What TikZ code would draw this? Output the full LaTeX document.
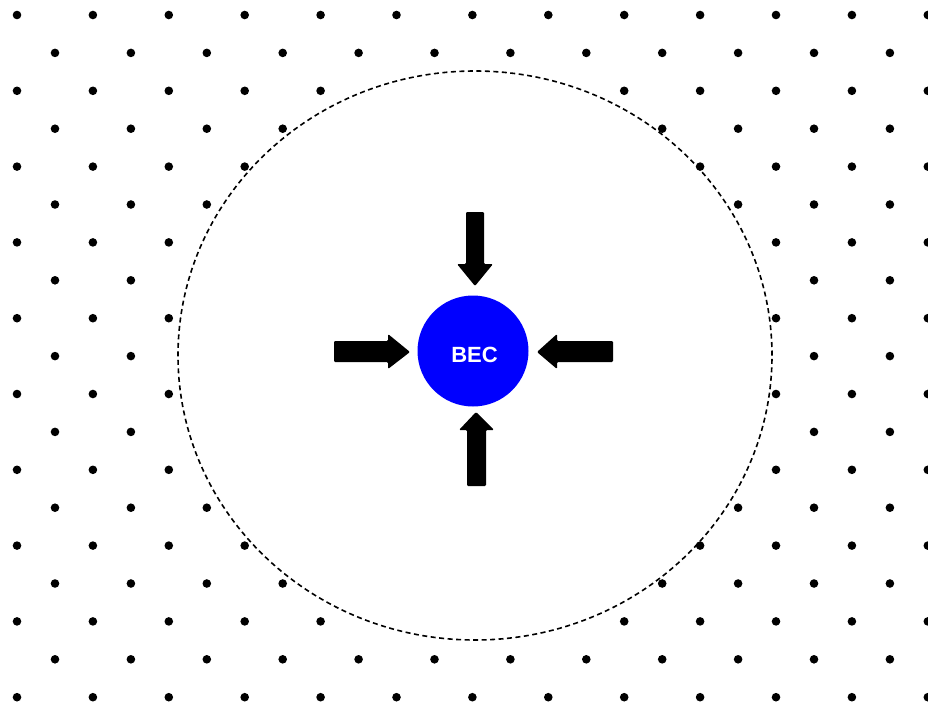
\documentclass[tikz,border=0pt]{standalone}
\usepackage{fontspec}
\setmainfont{Liberation Sans}
\begin{document}
\begin{tikzpicture}[x=1pt,y=-1pt,
  dot/.style={fill=black},
  blockarrow/.style={fill=black, rounded corners=1.2pt},
  boundary/.style={draw=black, line width=1.6pt, dash pattern=on 5pt off 3.5pt},
  becdisc/.style={circle, fill=blue, minimum size=111pt, inner sep=0pt},
  beclabel/.style={text=white, inner sep=0pt, font=\fontsize{22}{26}\selectfont\bfseries}]
\useasboundingbox (0,0) rectangle (928,704);
% lattice of dots outside the dashed boundary
\foreach \i in {0,...,18}{
  \pgfmathsetmacro{\yy}{15+37.9*\i}
  \pgfmathsetmacro{\xo}{mod(\i,2)==0 ? 17 : 55}
  \pgfmathtruncatemacro{\nk}{mod(\i,2)==0 ? 12 : 11}
  \foreach \k in {0,...,\nk}{
    \pgfmathsetmacro{\xx}{\xo+75.9*\k}
    \pgfmathsetmacro{\ee}{((\xx-475)/297)^2+((\yy-355.5)/284.5)^2}
    \ifdim\ee pt>1pt \fill[dot] (\xx,\yy) circle[radius=4.3pt];\fi
  }
}
% dashed boundary
\draw[boundary] (475,355.5) ellipse[x radius=297pt, y radius=284.5pt];
% condensate
\node[becdisc] (bec) at (473,351) {};
\node[beclabel] (bectext) at (474.5,355) {BEC};
% block arrows
\fill[blockarrow] (466,212) -- (484,212) -- (484,264) -- (493,264) -- (475,286) -- (457,264) -- (466,264) -- cycle;
\fill[blockarrow] (467,486) -- (486,486) -- (486,430) -- (494,430) -- (476,412) -- (459,430) -- (467,430) -- cycle;
\fill[blockarrow] (334,341) -- (388,341) -- (388,334) -- (410,352) -- (388,369) -- (388,362) -- (334,362) -- cycle;
\fill[blockarrow] (613,341) -- (557,341) -- (557,334) -- (537,352) -- (557,369) -- (557,362) -- (613,362) -- cycle;
\end{tikzpicture}
\end{document}
